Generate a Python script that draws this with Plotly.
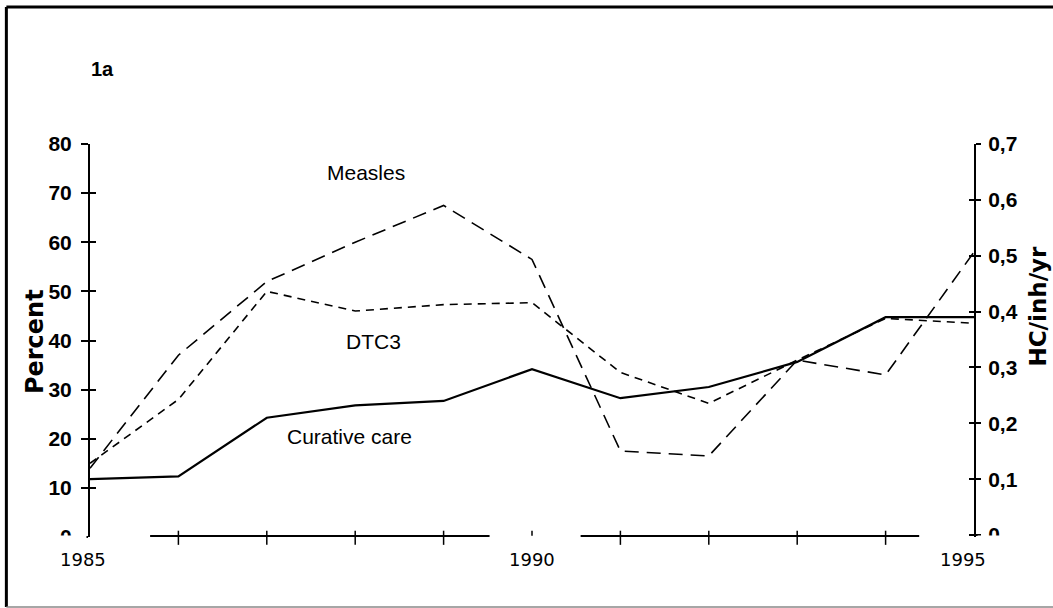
import plotly.graph_objects as go

years = [1985, 1986, 1987, 1988, 1989, 1990, 1991, 1992, 1993, 1994, 1995]
measles = [14, 37, 52, 60, 67.5, 56.5, 17.5, 16.5, 36, 33, 58]
dtc3 = [15, 28, 50, 46, 47.3, 47.7, 33.5, 27.2, 36, 44.5, 43.5]
curative = [0.10, 0.105, 0.21, 0.232, 0.24, 0.297, 0.245, 0.265, 0.31, 0.39, 0.39]

left_ticks = [0, 10, 20, 30, 40, 50, 60, 70, 80]
right_ticks = [0, 0.1, 0.2, 0.3, 0.4, 0.5, 0.6, 0.7]
right_ticktext = ["0", "0,1", "0,2", "0,3", "0,4", "0,5", "0,6", "0,7"]
x_labels = [1985, 1990, 1995]
x_label_shift = [-7, 0, -11]
x_minor_ticks = [1986, 1987, 1988, 1989, 1991, 1992, 1993, 1994]
x_axis_segments = [(1985.68, 1989.52), (1990.55, 1994.38)]

TICKFONT = dict(family="Liberation Sans, Arial", size=21, color="black", weight="bold")
TEXTFONT = dict(family="Liberation Sans, Arial", size=21, color="black")

fig = go.Figure()
fig.add_trace(go.Scatter(x=years, y=measles, mode="lines", name="Measles",
                         line=dict(color="black", width=1.6, dash="14px,8px"), yaxis="y"))
fig.add_trace(go.Scatter(x=years, y=dtc3, mode="lines", name="DTC3",
                         line=dict(color="black", width=1.6, dash="8px,6px"), yaxis="y"))
fig.add_trace(go.Scatter(x=years, y=curative, mode="lines", name="Curative care",
                         line=dict(color="black", width=2.2), yaxis="y2"))

shapes = []
# white masks cutting the lower half of the "0" tick labels
shapes.append(dict(type="rect", xref="paper", yref="paper", x0=-0.07, x1=-0.004,
                   y0=-0.03, y1=0.004, fillcolor="white", line=dict(width=0), layer="above"))
shapes.append(dict(type="rect", xref="paper", yref="paper", x0=1.004, x1=1.045,
                   y0=-0.03, y1=0.004, fillcolor="white", line=dict(width=0), layer="above"))
# broken x axis line with crossing ticks
for a, b in x_axis_segments:
    shapes.append(dict(type="line", xref="x", yref="paper", x0=a, x1=b, y0=0.0025, y1=0.0025,
                       line=dict(color="black", width=2), layer="above"))
for t in x_minor_ticks:
    shapes.append(dict(type="line", xref="x", yref="paper", x0=t, x1=t, y0=0.016, y1=-0.02,
                       line=dict(color="black", width=1.5), layer="above"))
shapes.append(dict(type="line", xref="x", yref="paper", x0=1990, x1=1990, y0=0.016, y1=0.003,
                   line=dict(color="black", width=1.5), layer="above"))
# frame around the figure
shapes.append(dict(type="line", xref="paper", yref="paper", x0=-0.0946, x1=1.2, y0=1.3486, y1=1.3486,
                   line=dict(color="black", width=3)))
shapes.append(dict(type="line", xref="paper", yref="paper", x0=-0.0946, x1=-0.0946, y0=1.3486, y1=-0.178,
                   line=dict(color="black", width=3)))
shapes.append(dict(type="line", xref="paper", yref="paper", x0=-0.0946, x1=1.2, y0=-0.178, y1=-0.178,
                   line=dict(color="#888888", width=1.5)))

annotations = [
    dict(text="Measles", x=1988.12, y=74.3, xref="x", yref="y", showarrow=False, font=TEXTFONT),
    dict(text="DTC3", x=1988.21, y=39.8, xref="x", yref="y", showarrow=False, font=TEXTFONT),
    dict(text="Curative care", x=1987.93, y=20.4, xref="x", yref="y", showarrow=False, font=TEXTFONT),
    dict(text="1a", x=0.0147, y=1.191, xref="paper", yref="paper", showarrow=False,
         xanchor="center", yanchor="middle",
         font=dict(family="Liberation Sans, Arial", size=20, color="black", weight="bold")),
    dict(text="Percent", x=-0.0622, y=0.496, xref="paper", yref="paper", showarrow=False, textangle=-90,
         xanchor="center", yanchor="middle",
         font=dict(family="DejaVu Sans", size=24, color="black", weight="bold")),
    dict(text="HC/inh/yr", x=1.0713, y=0.5865, xref="paper", yref="paper", showarrow=False, textangle=-90,
         xanchor="center", yanchor="middle",
         font=dict(family="DejaVu Sans", size=23, color="black", weight="bold")),
]
for yr, sh in zip(x_labels, x_label_shift):
    annotations.append(dict(text=str(yr), x=yr, y=-0.056, xref="x", yref="paper", showarrow=False,
                            xanchor="center", yanchor="middle", xshift=sh,
                            font=dict(family="DejaVu Sans, Verdana", size=18, color="black")))

fig.update_layout(
    width=1053, height=608,
    margin=dict(l=90, r=79, t=144, b=71, pad=0),
    paper_bgcolor="white", plot_bgcolor="white",
    showlegend=False,
    xaxis=dict(range=[1985, 1995], showline=False, showgrid=False, zeroline=False,
               showticklabels=False, ticks=""),
    yaxis=dict(range=[0, 80], tickvals=left_ticks, showline=True, linecolor="black", linewidth=2,
               ticks="outside", ticklen=7, tickwidth=2, tickcolor="black", showgrid=False, zeroline=False,
               tickfont=TICKFONT, ticklabelstandoff=5),
    yaxis3=dict(overlaying="y", matches="y", side="left", tickvals=left_ticks, ticks="inside",
                ticklen=6, tickwidth=2, tickcolor="black", showticklabels=False, showline=False,
                showgrid=False, zeroline=False),
    yaxis2=dict(range=[-0.0035, 0.7], overlaying="y", side="right", tickvals=right_ticks,
                ticktext=right_ticktext, showline=True, linecolor="black", linewidth=2,
                ticks="outside", ticklen=5, tickwidth=2, tickcolor="black", showgrid=False, zeroline=False,
                tickfont=TICKFONT, ticklabelstandoff=3),
    yaxis4=dict(overlaying="y", matches="y2", side="right", tickvals=right_ticks, ticks="inside",
                ticklen=5, tickwidth=2, tickcolor="black", showticklabels=False, showline=False,
                showgrid=False, zeroline=False),
    shapes=shapes,
    annotations=annotations,
)

# invisible helper traces so the overlay tick axes are drawn
fig.add_trace(go.Scatter(x=[years[0]], y=[left_ticks[0]], yaxis="y3", mode="markers",
                         marker=dict(opacity=0), hoverinfo="skip", showlegend=False))
fig.add_trace(go.Scatter(x=[years[0]], y=[right_ticks[0]], yaxis="y4", mode="markers",
                         marker=dict(opacity=0), hoverinfo="skip", showlegend=False))

fig.write_html("out.html", config={"displayModeBar": False},
               post_script="document.body.style.margin='0';")
